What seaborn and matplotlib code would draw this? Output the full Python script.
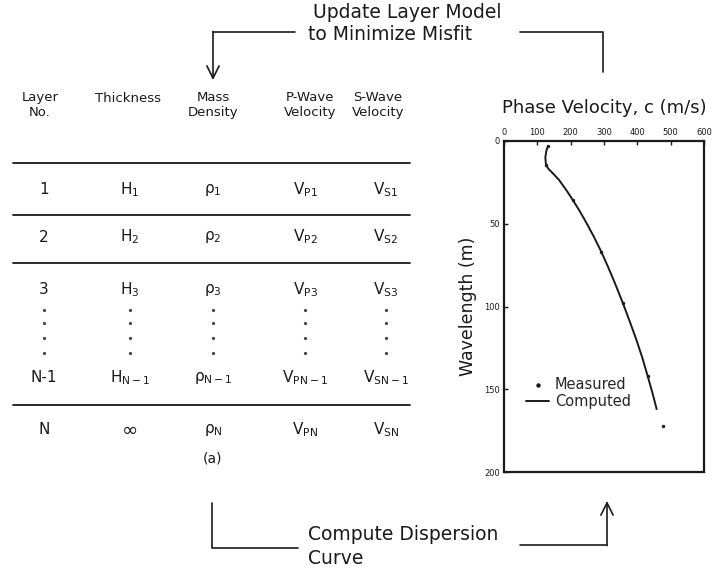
import matplotlib
matplotlib.use("Agg")
from matplotlib import pyplot as plt
import pandas as pd
import seaborn as sns

# dispersion curve (phase velocity m/s vs wavelength m)
computed_wavelength = [3, 6, 10, 14.5, 17, 19, 23.5, 30, 35.5, 42, 49, 58, 67, 76, 85.5,
                       97.6, 110, 120, 131, 142, 152, 162]
computed_velocity = [132, 127, 124, 126, 134, 144, 165, 188, 206, 226, 246, 270, 292, 312, 332,
                     356, 379, 397, 415, 431, 445, 458]
measured_wavelength = [3, 14.5, 35.5, 67, 97.6, 142, 172]
measured_velocity = [132, 126, 206, 292, 356, 431, 476]

# layer model table
headers = ['Layer\nNo.', 'Thickness', 'Mass\nDensity', 'P-Wave\nVelocity', 'S-Wave\nVelocity']
layer_no = ['1', '2', '3', 'N-1', 'N']
thickness = [r'$\mathregular{H_1}$', r'$\mathregular{H_2}$', r'$\mathregular{H_3}$',
             r'$\mathregular{H_{N-1}}$', '∞']
density = [r'$\mathregular{ρ_1}$', r'$\mathregular{ρ_2}$', r'$\mathregular{ρ_3}$',
           r'$\mathregular{ρ_{N-1}}$', r'$\mathregular{ρ_N}$']
p_vel = [r'$\mathregular{V_{P1}}$', r'$\mathregular{V_{P2}}$', r'$\mathregular{V_{P3}}$',
         r'$\mathregular{V_{PN-1}}$', r'$\mathregular{V_{PN}}$']
s_vel = [r'$\mathregular{V_{S1}}$', r'$\mathregular{V_{S2}}$', r'$\mathregular{V_{S3}}$',
         r'$\mathregular{V_{SN-1}}$', r'$\mathregular{V_{SN}}$']

sns.set_style("ticks")
plt.rcParams['font.family'] = ['DejaVu Sans']
ink = '#1a1a1a'

fig = plt.figure(figsize=(7.14, 5.75), dpi=100)

# overlay in pixel coords for the table and the loop arrows
ov = fig.add_axes([0, 0, 1, 1])
ov.set_xlim(0, 714)
ov.set_ylim(575, 0)
ov.axis('off')

col_x = [44, 130, 213, 305, 386]
head_x = [40, 128, 213, 310, 378]
row_y = [190, 237, 290, 378, 430]
rule_y = [163, 215, 263, 405]
dot_y = [310, 323, 338, 353]

for x, h in zip(head_x, headers):
    ov.text(x, 105 if '\n' in h else 98, h, ha='center', va='center',
            fontsize=9.5, color=ink, linespacing=1.25)
for y in rule_y:
    ov.plot([13, 410], [y, y], color=ink, lw=1.3)
columns = [layer_no, thickness, density, p_vel, s_vel]
for x, col in zip(col_x, columns):
    for y, val in zip(row_y, col):
        ov.text(x, y, val, ha='center', va='center', fontsize=11 if val != '∞' else 14, color=ink)
    # vertical ellipsis between row 3 and row N-1
    ov.plot([x] * len(dot_y), dot_y, ls='none', marker='o', ms=1.3, color='#444444')
ov.text(213, 458, '(a)', ha='center', va='center', fontsize=10, color=ink)

# feedback loop
ov.text(407, 13, 'Update Layer Model', ha='center', va='center', fontsize=13.5, color=ink)
ov.text(390, 34, 'to Minimize Misfit', ha='center', va='center', fontsize=13.5, color=ink)
ov.plot([295, 213], [32, 32], color=ink, lw=1.2)
ov.annotate('', xy=(213, 80), xytext=(213, 31.4),
            arrowprops=dict(arrowstyle='->', color=ink, lw=1.2, mutation_scale=22, shrinkA=0, shrinkB=0))
ov.plot([520, 603, 603], [32, 32, 72], color=ink, lw=1.2)

ov.text(308, 535, 'Compute Dispersion', ha='left', va='center', fontsize=13.5, color=ink)
ov.text(308, 558, 'Curve', ha='left', va='center', fontsize=13.5, color=ink)
ov.plot([212, 212, 298], [503, 548, 548], color=ink, lw=1.2)
ov.plot([520, 607], [545, 545], color=ink, lw=1.2)
ov.annotate('', xy=(607, 501), xytext=(607, 545.6),
            arrowprops=dict(arrowstyle='->', color=ink, lw=1.2, mutation_scale=22, shrinkA=0, shrinkB=0))

# dispersion plot
ax = fig.add_axes([504 / 714, 1 - 472 / 575, 200 / 714, 331 / 575])
comp = pd.DataFrame({'c': computed_velocity, 'wl': computed_wavelength})
meas = pd.DataFrame({'c': measured_velocity, 'wl': measured_wavelength})
sns.scatterplot(data=meas, x='c', y='wl', ax=ax, color=ink, s=6, edgecolor=ink,
                linewidth=0, label='Measured', zorder=3)
sns.lineplot(data=comp, x='c', y='wl', ax=ax, color=ink, lw=1.4, sort=False, label='Computed')

ax.set_xlim(0, 600)
ax.set_ylim(200, 0)
ax.set_xticks([0, 100, 200, 300, 400, 500, 600])
ax.set_yticks([0, 50, 100, 150, 200])
ax.xaxis.tick_top()
ax.xaxis.set_label_position('top')
ax.tick_params(direction='in', length=3, width=1, labelsize=6, pad=3, colors=ink)
ax.set_xlabel('Phase Velocity, c (m/s)', fontsize=13, labelpad=11, color=ink)
ax.set_ylabel('Wavelength (m)', fontsize=12.5, labelpad=5, color=ink)
for sp in ax.spines.values():
    sp.set_linewidth(1.6)
    sp.set_color(ink)
    sp.set_visible(True)

h, l = ax.get_legend_handles_labels()
ax.legend(h, l, loc='upper left', bbox_to_anchor=(0.08, 0.305), frameon=False,
          fontsize=10.5, handlelength=1.6, handletextpad=0.4, borderaxespad=0,
          labelspacing=0.15, markerscale=1.3)

fig.savefig('out.png', dpi=100)
